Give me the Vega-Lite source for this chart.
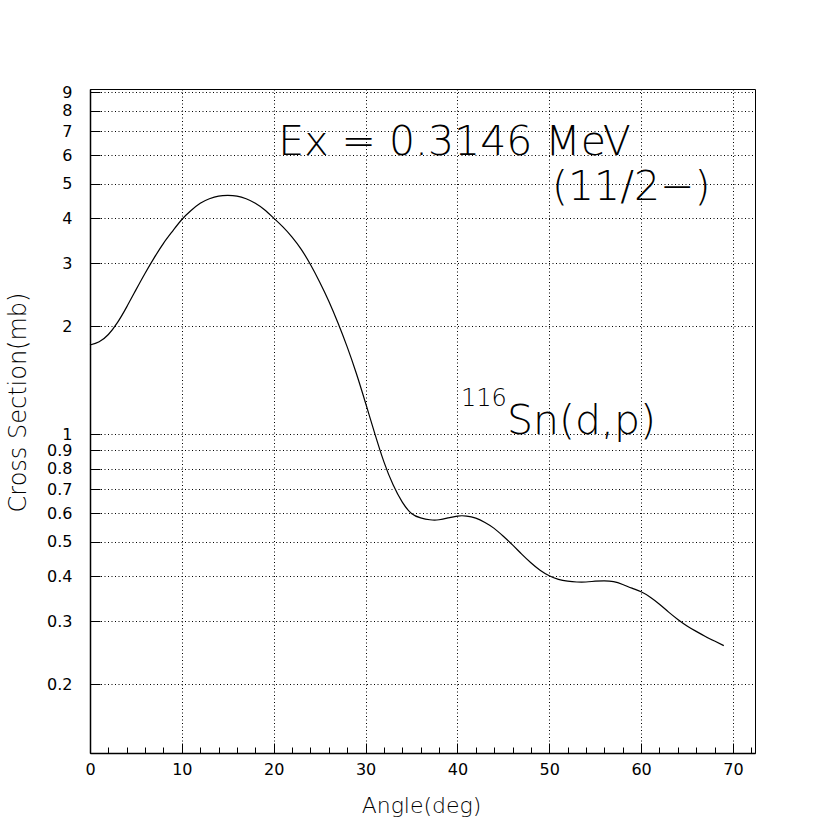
{
  "$schema": "https://vega.github.io/schema/vega-lite/v6.json",
  "autosize": {"type": "none"},
  "padding": {"left": 90, "top": 89, "right": 83, "bottom": 83},
  "width": 665,
  "height": 664,
  "background": "white",
  "config": {
    "font": "DejaVu Sans",
    "view": {"stroke": "black", "strokeWidth": 1},
    "axis": {"labelFont": "DejaVu Sans", "titleFont": "DejaVu Sans", "labelColor": "black", "titleColor": "black", "titleFontWeight": 200, "labelFontWeight": "normal"}
  },
  "resolve": {"axis": {"x": "independent", "y": "independent"}},
  "layer": [
    {
      "data": {"values": [
        {"angle": 0, "xs": 1.773}, {"angle": 1, "xs": 1.81}, {"angle": 2, "xs": 1.897}, {"angle": 3, "xs": 2.05},
        {"angle": 4, "xs": 2.266}, {"angle": 5, "xs": 2.527}, {"angle": 6, "xs": 2.813}, {"angle": 7, "xs": 3.11},
        {"angle": 8, "xs": 3.41}, {"angle": 9, "xs": 3.69}, {"angle": 10, "xs": 3.974}, {"angle": 11, "xs": 4.21},
        {"angle": 12, "xs": 4.41}, {"angle": 13, "xs": 4.54}, {"angle": 14, "xs": 4.62}, {"angle": 15, "xs": 4.64},
        {"angle": 16, "xs": 4.62}, {"angle": 17, "xs": 4.54}, {"angle": 18, "xs": 4.41}, {"angle": 19, "xs": 4.23},
        {"angle": 20, "xs": 4.01}, {"angle": 21, "xs": 3.79}, {"angle": 22, "xs": 3.55}, {"angle": 23, "xs": 3.28},
        {"angle": 24, "xs": 2.975}, {"angle": 25, "xs": 2.66}, {"angle": 26, "xs": 2.35}, {"angle": 27, "xs": 2.043},
        {"angle": 28, "xs": 1.752}, {"angle": 29, "xs": 1.476}, {"angle": 30, "xs": 1.221}, {"angle": 31, "xs": 1.0045},
        {"angle": 32, "xs": 0.836}, {"angle": 33, "xs": 0.721}, {"angle": 34, "xs": 0.645}, {"angle": 35, "xs": 0.600},
        {"angle": 36, "xs": 0.583}, {"angle": 37, "xs": 0.576}, {"angle": 38, "xs": 0.576}, {"angle": 39, "xs": 0.583},
        {"angle": 40, "xs": 0.590}, {"angle": 41, "xs": 0.590}, {"angle": 42, "xs": 0.582}, {"angle": 43, "xs": 0.566},
        {"angle": 44, "xs": 0.545}, {"angle": 45, "xs": 0.518}, {"angle": 46, "xs": 0.490}, {"angle": 47, "xs": 0.462},
        {"angle": 48, "xs": 0.437}, {"angle": 49, "xs": 0.4165}, {"angle": 50, "xs": 0.402}, {"angle": 51, "xs": 0.3925},
        {"angle": 52, "xs": 0.388}, {"angle": 53, "xs": 0.386}, {"angle": 54, "xs": 0.386}, {"angle": 55, "xs": 0.388},
        {"angle": 56, "xs": 0.389}, {"angle": 57, "xs": 0.387}, {"angle": 58, "xs": 0.380}, {"angle": 59, "xs": 0.371},
        {"angle": 60, "xs": 0.3625}, {"angle": 61, "xs": 0.350}, {"angle": 62, "xs": 0.3346}, {"angle": 63, "xs": 0.318},
        {"angle": 64, "xs": 0.3034}, {"angle": 65, "xs": 0.291}, {"angle": 66, "xs": 0.281}, {"angle": 67, "xs": 0.272},
        {"angle": 68, "xs": 0.264}, {"angle": 69, "xs": 0.2564}
      ]},
      "mark": {"type": "line", "color": "black", "strokeWidth": 1.2, "interpolate": "natural"},
      "encoding": {
        "x": {"field": "angle", "type": "quantitative",
          "scale": {"domain": [0, 72.4], "nice": false, "zero": false},
          "axis": {"orient": "bottom", "values": [0, 10, 20, 30, 40, 50, 60, 70], "ticks": false, "domain": true, "domainColor": "black", "domainWidth": 1.5,
            "grid": true, "gridColor": "black", "gridDash": [1, 2.5], "gridWidth": 1, "gridOpacity": 1,
            "labelFontSize": 16, "labelPadding": 8, "labelFlush": false,
            "title": "Angle(deg)", "titleFontSize": 22, "titleX": 331, "titleY": 59, "titleBaseline": "alphabetic", "titleAnchor": "middle"}},
        "y": {"field": "xs", "type": "quantitative",
          "scale": {"type": "log", "domain": [0.1285, 9.2], "nice": false, "zero": false},
          "axis": {"orient": "left", "values": [0.2, 0.3, 0.4, 0.5, 0.6, 0.7, 0.8, 0.9, 1, 2, 3, 4, 5, 6, 7, 8, 9], "format": "~g", "ticks": false, "domain": true, "domainColor": "black", "domainWidth": 1.5,
            "grid": true, "gridColor": "black", "gridDash": [1, 2.5], "gridWidth": 1, "gridOpacity": 1,
            "labelFontSize": 16, "labelPadding": 18, "labelFlush": false,
            "title": "Cross Section(mb)", "titleFontSize": 24, "titleX": -65, "titleY": 313, "titleAngle": -90, "titleBaseline": "alphabetic", "titleAnchor": "middle"}}
      }
    },
    {
      "data": {"values": [{"angle": 0, "xs": 1}]},
      "mark": {"type": "point", "opacity": 0},
      "encoding": {
        "x": {"field": "angle", "type": "quantitative",
          "axis": {"orient": "bottom", "values": [0, 10, 20, 30, 40, 50, 60, 70], "ticks": true, "tickSize": -10, "tickColor": "black", "tickWidth": 1, "labels": false, "domain": false, "grid": false, "title": null}},
        "y": {"field": "xs", "type": "quantitative",
          "axis": {"orient": "left", "values": [0.2, 0.3, 0.4, 0.5, 0.6, 0.7, 0.8, 0.9, 1, 2, 3, 4, 5, 6, 7, 8, 9], "ticks": true, "tickSize": -10, "tickColor": "black", "tickWidth": 1, "labels": false, "domain": false, "grid": false, "title": null}}
      }
    },
    {
      "data": {"values": [{"angle": 0, "xs": 1}]},
      "mark": {"type": "point", "opacity": 0},
      "encoding": {
        "x": {"field": "angle", "type": "quantitative",
          "axis": {"orient": "bottom", "values": [2, 4, 6, 8, 12, 14, 16, 18, 22, 24, 26, 28, 32, 34, 36, 38, 42, 44, 46, 48, 52, 54, 56, 58, 62, 64, 66, 68, 72], "ticks": true, "tickSize": -6, "tickColor": "black", "tickWidth": 1, "labels": false, "domain": false, "grid": false, "title": null}},
        "y": {"field": "xs", "type": "quantitative", "axis": null}
      }
    },
    {
      "data": {"values": [
        {"angle": 20.5, "xs": 6.02, "label": "Ex = 0.3146 MeV"},
        {"angle": 50.3, "xs": 4.5, "label": "(11/2−)"},
        {"angle": 45.4, "xs": 1.0, "label": "Sn(d,p)"}
      ]},
      "mark": {"type": "text", "align": "left", "baseline": "alphabetic", "fontSize": 41, "font": "DejaVu Sans", "fontWeight": 200, "color": "black"},
      "encoding": {
        "x": {"field": "angle", "type": "quantitative", "axis": null},
        "y": {"field": "xs", "type": "quantitative", "axis": null},
        "text": {"field": "label"}
      }
    },
    {
      "data": {"values": [
        {"angle": 40.4, "xs": 1.197, "label": "116"}
      ]},
      "mark": {"type": "text", "align": "left", "baseline": "alphabetic", "fontSize": 24, "font": "DejaVu Sans", "fontWeight": 200, "color": "black"},
      "encoding": {
        "x": {"field": "angle", "type": "quantitative", "axis": null},
        "y": {"field": "xs", "type": "quantitative", "axis": null},
        "text": {"field": "label"}
      }
    }
  ]
}
